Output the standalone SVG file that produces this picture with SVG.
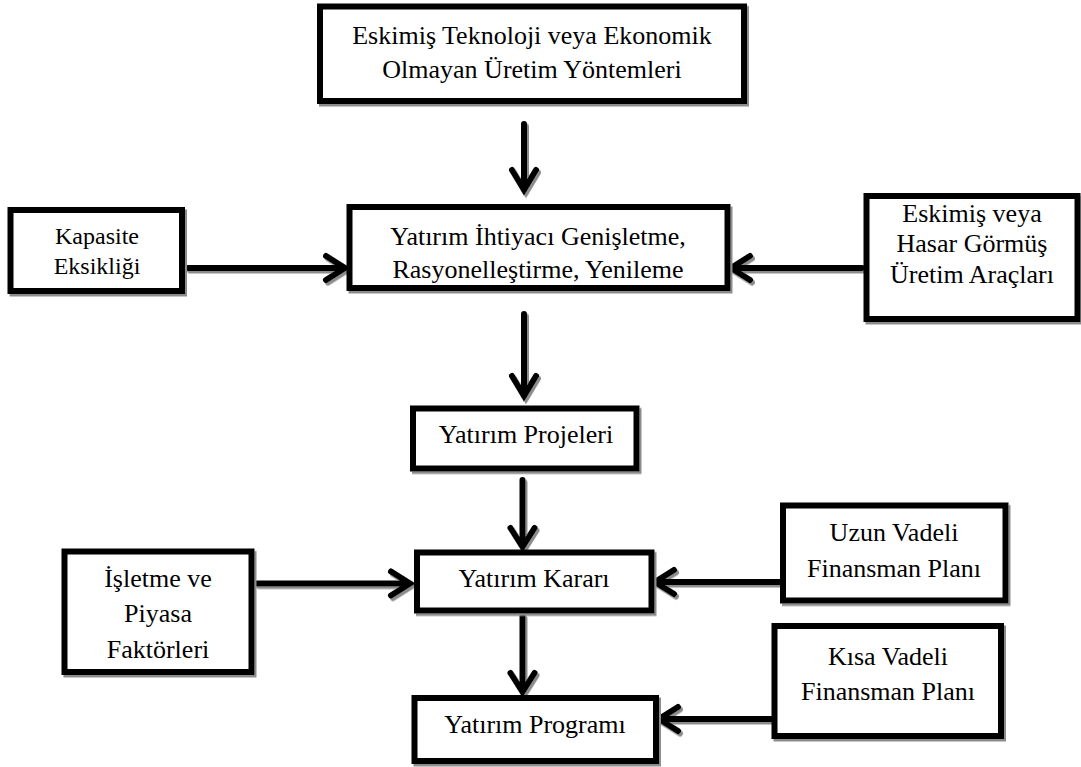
<svg xmlns="http://www.w3.org/2000/svg" width="1081" height="767" viewBox="0 0 1081 767">
<defs>
<filter id="sh" x="-10%" y="-10%" width="130%" height="140%">
<feDropShadow dx="2" dy="2.5" stdDeviation="0.6" flood-color="#8c8c8c" flood-opacity="1"/>
</filter>
<clipPath id="clipMid"><rect x="352" y="210" width="372" height="73"/></clipPath>
</defs>
<style>
.box{fill:#fff;stroke:#000;stroke-width:6;filter:url(#sh)}
.t{font-family:"Liberation Serif",Tinos,"Noto Serif","DejaVu Serif",FreeSerif,Times,"Times New Roman",serif;font-size:26px;fill:#000;text-anchor:middle}
.ts{font-size:24px}
.c path{fill:none;stroke:#000;stroke-width:6;stroke-linecap:round;stroke-linejoin:miter}
.c{filter:url(#sh)}
</style>
<rect width="1081" height="767" fill="#fff"/>

<g id="connectors" class="c">
<path d="M524 124 V190 M512 170 L524 190 L536 170"/>
<path d="M188 268 H344 M326 256 L345 268 L326 280"/>
<path d="M862 268 H732 M750 256 L731 268 L750 280"/>
<path d="M524 314 V396 M512 376 L524 396 L536 376"/>
<path d="M522.5 480 V546 M510.5 528 L522.5 547 L534.5 528"/>
<path d="M257 583.5 H409 M391 571.5 L410 583.5 L391 595.5"/>
<path d="M783 582 H656 M674 570 L655 582 L674 594"/>
<path d="M522.5 616 V691 M510.5 673 L522.5 692 L534.5 673"/>
<path d="M772 719 H660 M678 707 L659 719 L678 731"/>
</g>

<g id="n-top">
<rect class="box" x="320" y="6.5" width="424" height="94.5"/>
<text class="t" x="532" y="44">Eskimiş Teknoloji veya Ekonomik</text>
<text class="t" x="532" y="78">Olmayan Üretim Yöntemleri</text>
</g>

<g id="n-kapasite">
<rect class="box" x="10.5" y="210" width="171.5" height="81"/>
<text class="t ts" x="97" y="244">Kapasite</text>
<text class="t ts" x="97" y="274">Eksikliği</text>
</g>

<g id="n-ihtiyac">
<rect class="box" x="349.5" y="207" width="378" height="81"/>
<g clip-path="url(#clipMid)">
<text class="t" x="538" y="245">Yatırım İhtiyacı Genişletme,</text>
<text class="t" x="538" y="278">Rasyonelleştirme, Yenileme</text>
</g>
</g>

<g id="n-eskimis">
<rect class="box" x="866.5" y="196" width="211" height="123"/>
<text class="t" x="972" y="222">Eskimiş veya</text>
<text class="t" x="972" y="252">Hasar Görmüş</text>
<text class="t" x="972" y="283">Üretim Araçları</text>
</g>

<g id="n-projeler">
<rect class="box" x="413" y="408.5" width="223.5" height="60"/>
<text class="t" x="526" y="443">Yatırım Projeleri</text>
</g>

<g id="n-isletme">
<rect class="box" x="64.5" y="551.5" width="187" height="120.5"/>
<text class="t" x="158" y="587">İşletme ve</text>
<text class="t" x="158" y="622">Piyasa</text>
<text class="t" x="158" y="658">Faktörleri</text>
</g>

<g id="n-karar">
<rect class="box" x="417" y="552.5" width="234.5" height="58"/>
<text class="t" x="534" y="587">Yatırım Kararı</text>
</g>

<g id="n-uzun">
<rect class="box" x="783" y="505.5" width="222.5" height="95"/>
<text class="t" x="894" y="541">Uzun Vadeli</text>
<text class="t" x="894" y="577">Finansman Planı</text>
</g>

<g id="n-kisa">
<rect class="box" x="774.5" y="626" width="226.5" height="110"/>
<text class="t" x="888" y="665">Kısa Vadeli</text>
<text class="t" x="888" y="700">Finansman Planı</text>
</g>

<g id="n-program">
<rect class="box" x="414.5" y="698" width="241.5" height="63"/>
<text class="t" x="535" y="733">Yatırım Programı</text>
</g>
</svg>
